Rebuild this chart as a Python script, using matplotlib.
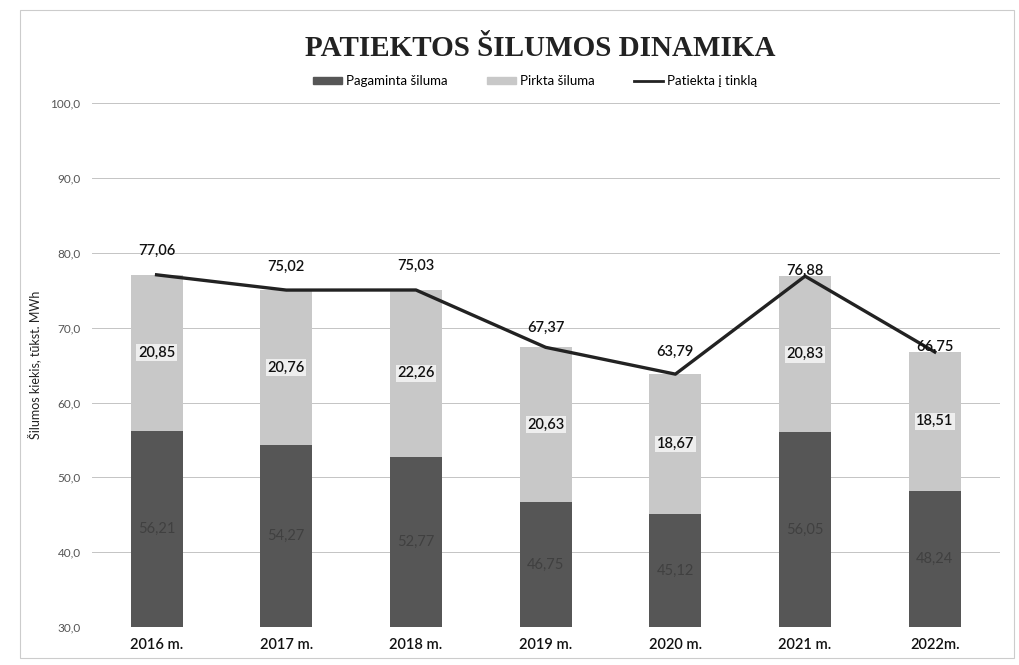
import matplotlib.pyplot as plt
from matplotlib.patches import Rectangle, Patch
from matplotlib.lines import Line2D

years = ["2016 m.", "2017 m.", "2018 m.", "2019 m.", "2020 m.", "2021 m.", "2022m."]
pagaminta = [56.21, 54.27, 52.77, 46.75, 45.12, 56.05, 48.24]
pirkta = [20.85, 20.76, 22.26, 20.63, 18.67, 20.83, 18.51]
patiekta = [77.06, 75.02, 75.03, 67.37, 63.79, 76.88, 66.75]

c_dark = "#565656"
c_light = "#c8c8c8"
y_min, y_max = 30, 100

plt.rcParams['font.family'] = ['Lato', 'DejaVu Sans']

fig = plt.figure(figsize=(10.19, 6.65), dpi=100)
ax = fig.add_axes([0.090, 0.057, 0.891, 0.788])

x = list(range(len(years)))
ax.bar(x, pagaminta, width=0.4, color=c_dark, zorder=2)
ax.bar(x, pirkta, width=0.4, bottom=pagaminta, color=c_light, zorder=2)
ax.plot(x, patiekta, color="#222222", lw=2.4, zorder=3)

def fmt(v):
    return f"{v:.2f}".replace(".", ",")

for i in x:
    # produced - centred in visible part
    ax.text(i, (y_min + pagaminta[i]) / 2, fmt(pagaminta[i]), ha="center", va="center",
            fontsize=10.5, color="#404040", zorder=4)
    ax.text(i, pagaminta[i] + pirkta[i] / 2, fmt(pirkta[i]), ha="center", va="center",
            fontsize=10.5, color="#111111", fontweight="semibold", zorder=4,
            bbox=dict(boxstyle="square,pad=0.1", fc="#eeeeee", ec="none"))

# line labels
offsets = [(0, 12), (0, 12), (0, 12), (0, 9), (0, 11), (0, -1), (0, -1)]
for i in x:
    ax.annotate(fmt(patiekta[i]), (i, patiekta[i]), xytext=offsets[i],
                textcoords="offset points", ha="center", va="bottom",
                fontsize=10.5, color="#111111", fontweight="semibold", zorder=5)

ax.set_xlim(-0.5, len(years) - 0.5)
ax.set_ylim(y_min, y_max)
ax.set_yticks(range(30, 101, 10))
ax.set_yticklabels([f"{v},0" for v in range(30, 101, 10)], fontsize=8.5, color="#555555")
ax.set_xticks(x)
ax.set_xticklabels(years, fontsize=10.5, color="#111111", fontweight="semibold")
ax.tick_params(length=0, pad=8)
ax.tick_params(axis="y", pad=8)
ax.grid(axis="y", color="#c4c4c4", lw=0.7, zorder=0)
for s in ax.spines.values():
    s.set_visible(False)
ax.set_ylabel("Šilumos kiekis, tūkst. MWh", fontsize=9, color="#222222", labelpad=7)

fig.text(0.53, 0.927, "PATIEKTOS ŠILUMOS DINAMIKA", ha="center", va="center",
         fontsize=21, fontweight="bold", family="Liberation Serif", color="#222222")

handles = [Patch(color=c_dark), Patch(color=c_light), Line2D([0], [0], color="#222222", lw=2)]
fig.legend(handles, ["Pagaminta šiluma", "Pirkta šiluma", "Patiekta į tinklą"],
           loc="center", bbox_to_anchor=(0.525, 0.878), ncol=3, frameon=False,
           fontsize=9.5, handlelength=2.2, handleheight=0.5, columnspacing=3.0, handletextpad=0.3)

fig.patches.append(Rectangle((0.02, 0.01), 0.975, 0.975, transform=fig.transFigure,
                             fill=False, ec="#cccccc", lw=0.8))

fig.savefig("out.png", dpi=100)
